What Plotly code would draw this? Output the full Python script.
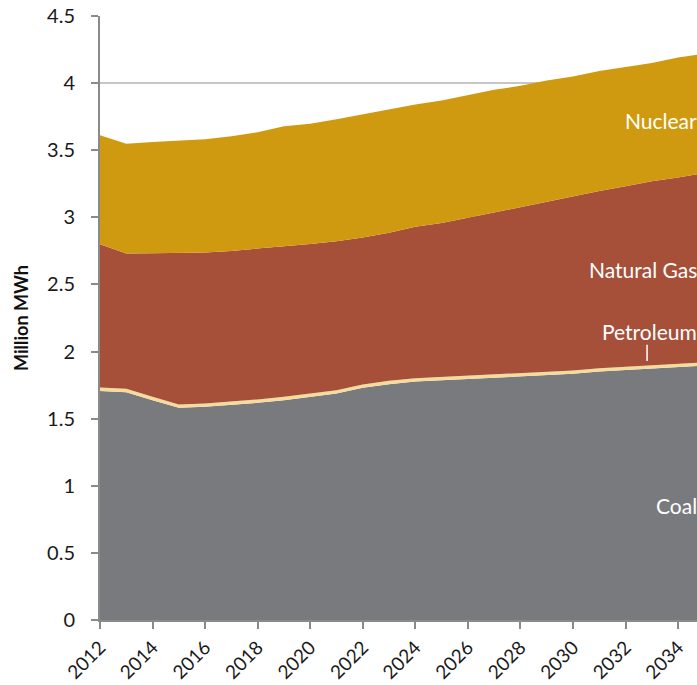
import plotly.graph_objects as go

# Generation by fuel, million MWh
years = list(range(2012, 2036))
coal = [1.707, 1.697, 1.638, 1.581, 1.588, 1.601, 1.618, 1.638, 1.663, 1.688, 1.730, 1.757,
        1.777, 1.787, 1.799, 1.809, 1.816, 1.824, 1.834, 1.851, 1.861, 1.871, 1.883, 1.895]
petroleum = [0.026, 0.025, 0.025, 0.025, 0.025, 0.025, 0.025, 0.025, 0.025, 0.024, 0.025, 0.025,
             0.025, 0.025, 0.025, 0.025, 0.025, 0.025, 0.025, 0.025, 0.025, 0.025, 0.025, 0.025]
natural_gas = [1.067, 1.008, 1.070, 1.129, 1.125, 1.124, 1.122, 1.122, 1.114, 1.110, 1.095, 1.103,
               1.127, 1.146, 1.172, 1.202, 1.237, 1.269, 1.298, 1.321, 1.346, 1.373, 1.388, 1.410]
nuclear = [0.811, 0.819, 0.828, 0.834, 0.843, 0.854, 0.869, 0.893, 0.896, 0.908, 0.918, 0.918,
           0.911, 0.912, 0.914, 0.914, 0.902, 0.902, 0.893, 0.893, 0.888, 0.881, 0.894, 0.890]

series = [
    ("Coal", coal, "#797a7e"),
    ("Petroleum", petroleum, "#f6dc9c"),
    ("Natural Gas", natural_gas, "#a6503a"),
    ("Nuclear", nuclear, "#d09a10"),
]

FONT = "Lato, Open Sans, sans-serif"

fig = go.Figure()
for name, vals, color in series:
    fig.add_trace(go.Scatter(
        x=years, y=vals, name=name,
        mode="lines", stackgroup="gen",
        line=dict(width=0, color=color),
        fillcolor=color,
        hoverinfo="x+y+name",
    ))

# in-chart labels, right aligned at the plot edge
labels = [("Nuclear", 3.725), ("Natural Gas", 2.61), ("Petroleum", 2.15), ("Coal", 0.85)]
for text, yv in labels:
    fig.add_annotation(
        x=1, xref="paper", y=yv, yref="y", text=text,
        showarrow=False, xanchor="right", yanchor="middle", xshift=2,
        font=dict(family=FONT, size=21, color="white"),
    )

# small leader line for Petroleum
fig.add_shape(type="line", x0=2032.82, x1=2032.82, y0=2.05, y1=1.93,
              xref="x", yref="y", line=dict(color="white", width=1.5))

fig.update_xaxes(
    range=[2012, 2034.72],
    tickmode="array", tickvals=list(range(2012, 2036, 2)),
    tickangle=-45,
    showgrid=False,
    showline=True, linecolor="#8a8a8a", linewidth=2,
    ticks="outside", ticklen=7, tickcolor="#8a8a8a", tickwidth=1.5,
    tickfont=dict(family=FONT, size=19, color="#1a1a1a"),
)
fig.update_yaxes(
    range=[0, 4.5], dtick=0.5,
    tickformat="~g",
    showgrid=True, gridcolor="#c6c6c6", gridwidth=1.5,
    showline=True, linecolor="#8a8a8a", linewidth=2,
    ticks="outside", ticklen=7, tickcolor="#8a8a8a", tickwidth=1.5,
    ticklabelstandoff=12,
    zeroline=False,
    tickfont=dict(family=FONT, size=20, color="#1a1a1a"),
    title=dict(text="<b>Million MWh</b>", standoff=14,
               font=dict(family=FONT, size=18, color="#111111")),
)

fig.update_layout(
    width=697, height=685,
    margin=dict(l=100, r=0, t=16, b=65),
    plot_bgcolor="white", paper_bgcolor="white",
    showlegend=False,
)

# drop the default page margin so the figure fills the window exactly
fig.write_html("out.html",
               config={"displayModeBar": False},
               post_script="document.body.style.margin='0';document.body.style.overflow='hidden';")
